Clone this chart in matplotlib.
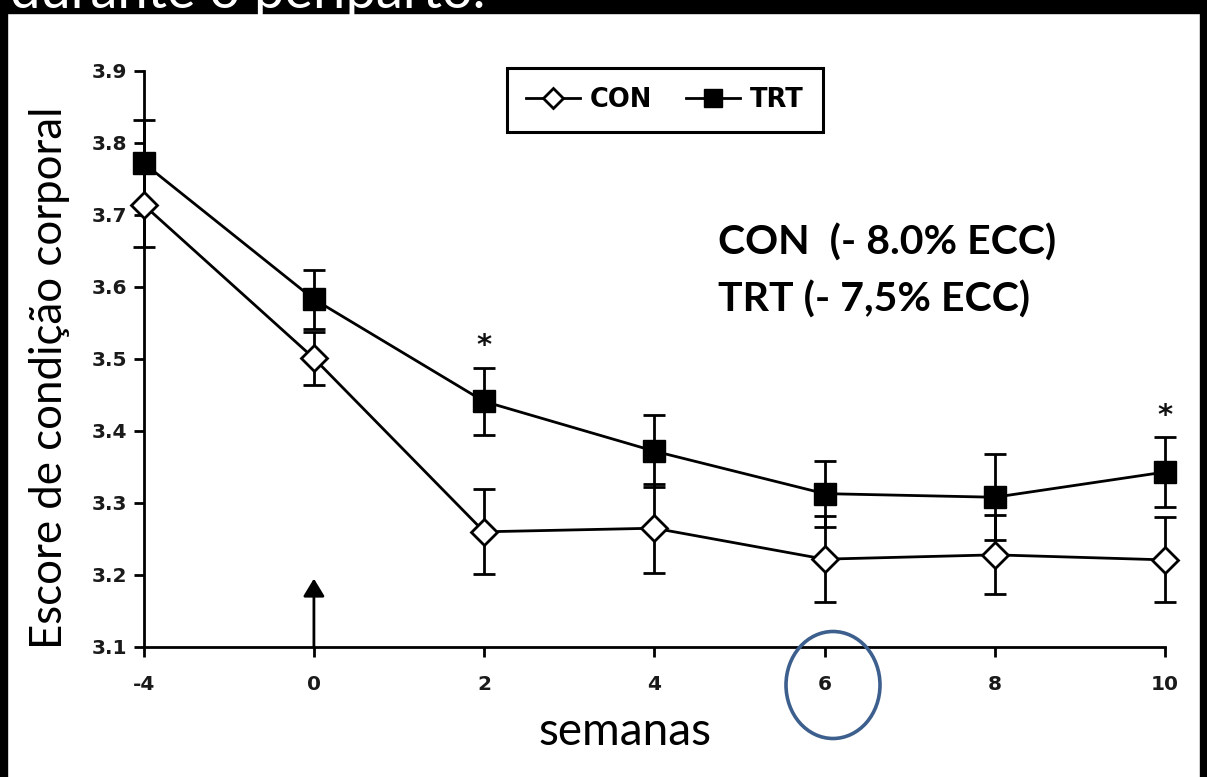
import matplotlib
matplotlib.use("Agg")

import matplotlib.pyplot as plt
import matplotlib.patches as mpatches

# weeks relative to calving (plotted as equally spaced categories)
weeks = ["-4", "0", "2", "4", "6", "8", "10"]
con_mean = [3.714, 3.501, 3.260, 3.265, 3.222, 3.228, 3.221]
con_err = [0.058, 0.037, 0.059, 0.062, 0.060, 0.055, 0.059]
trt_mean = [3.772, 3.583, 3.441, 3.372, 3.313, 3.308, 3.343]
trt_err = [0.060, 0.041, 0.047, 0.050, 0.046, 0.060, 0.048]
star_weeks = ["2", "10"]
yticks = [3.1, 3.2, 3.3, 3.4, 3.5, 3.6, 3.7, 3.8, 3.9]

W, H = 1207, 777
fig = plt.figure(figsize=(W / 100, H / 100), dpi=100)
fig.patch.set_facecolor("white")

# plot area in pixel units of the reference
x0, x1, y_top, y_bot = 143.7, 1165, 71, 647
ax = fig.add_axes([x0 / W, 1 - y_bot / H, (x1 - x0) / W, (y_bot - y_top) / H])
ax.set_facecolor("none")

x = list(range(len(weeks)))
tick_font = {"family": "DejaVu Sans", "weight": "bold", "size": 14.5}

ax.errorbar(x, trt_mean, yerr=trt_err, fmt="none", ecolor="black",
            elinewidth=2, capsize=8, capthick=2, clip_on=False, zorder=2)
ax.errorbar(x, con_mean, yerr=con_err, fmt="none", ecolor="black",
            elinewidth=2, capsize=8, capthick=2, clip_on=False, zorder=2)
ax.plot(x, con_mean, color="black", lw=2, marker="D", ms=13, mfc="white",
        mec="black", mew=2, clip_on=False, zorder=3, label="CON")
ax.plot(x, trt_mean, color="black", lw=2, marker="s", ms=16, mfc="black",
        mec="black", clip_on=False, zorder=3, label="TRT")

for w in star_weeks:
    i = weeks.index(w)
    ax.text(i, trt_mean[i] + trt_err[i] + 0.03, "*", ha="center", va="center",
            fontsize=21, fontweight="bold", color="#111111")

# calving arrow at week 0
ax.annotate("", xy=(weeks.index("0"), 3.195), xytext=(weeks.index("0"), 3.1),
            arrowprops=dict(arrowstyle="-|>,head_length=0.43,head_width=0.26",
                            color="black", lw=2, mutation_scale=25,
                            shrinkA=0, shrinkB=0), zorder=2)

ax.set_xlim(0, 6)
ax.set_ylim(3.1, 3.9)
ax.set_xticks(x)
ax.set_xticklabels(weeks, fontdict=tick_font, color="#1a1a1a")
ax.set_yticks(yticks)
ax.set_yticklabels([f"{v:.1f}" for v in yticks], fontdict=tick_font, color="#1a1a1a")
for s in ("top", "right"):
    ax.spines[s].set_visible(False)
for s in ("left", "bottom"):
    ax.spines[s].set_linewidth(2)
ax.tick_params(axis="both", direction="out", length=7, width=2)
ax.tick_params(axis="x", pad=13)
ax.tick_params(axis="y", pad=5)

leg = ax.legend(loc="center", bbox_to_anchor=((665 - x0) / (x1 - x0), (y_bot - 100) / (y_bot - y_top)),
                ncol=2, frameon=True, fancybox=False, edgecolor="black", framealpha=1,
                prop={"family": "DejaVu Sans", "weight": "bold", "size": 18.5},
                handlelength=2.1, handletextpad=0.4, columnspacing=1.3,
                markerscale=0.8, borderpad=0.75)
leg.get_frame().set_linewidth(2.2)

ax.text((718 - x0) / (x1 - x0), (y_bot - 243) / (y_bot - y_top),
        "CON  (- 8.0% ECC)", transform=ax.transAxes, ha="left", va="center",
        fontsize=29.5, fontweight="bold", family="Lato", color="black")
ax.text((718 - x0) / (x1 - x0), (y_bot - 300) / (y_bot - y_top),
        "TRT (- 7,5% ECC)", transform=ax.transAxes, ha="left", va="center",
        fontsize=29.5, fontweight="bold", family="Lato", color="black")

# axis titles from the slide
fig.text(50 / W, 1 - 378 / H, "Escore de condição corporal", rotation=90,
         ha="center", va="center", fontsize=31.5, family="Lato", color="black")
fig.text(625 / W, 1 - 745 / H, "semanas", ha="center", va="baseline",
         fontsize=33, family="Lato", color="black")

# blue circle around week 6
fig.add_artist(mpatches.Ellipse((833 / W, 1 - 685 / H), 94 / W, 107 / H,
                                transform=fig.transFigure, fill=False,
                                edgecolor="#3c5f8d", lw=2.6))

# black slide frame and cut-off title
fig.add_artist(mpatches.Rectangle((0, 0), 7 / W, 1, transform=fig.transFigure,
                                  color="black", zorder=5))
fig.add_artist(mpatches.Rectangle((1 - 7 / W, 0), 7 / W, 1, transform=fig.transFigure,
                                  color="black", zorder=5))
fig.add_artist(mpatches.Rectangle((0, 1 - 12.5 / H), 1, 12.5 / H, transform=fig.transFigure,
                                  color="black", zorder=5))
fig.text(10 / W, 1 - 8 / H, "durante o periparto.", ha="left", va="baseline",
         fontsize=39, family="Lato", color="white", zorder=6)

fig.savefig("out.png", dpi=100)
